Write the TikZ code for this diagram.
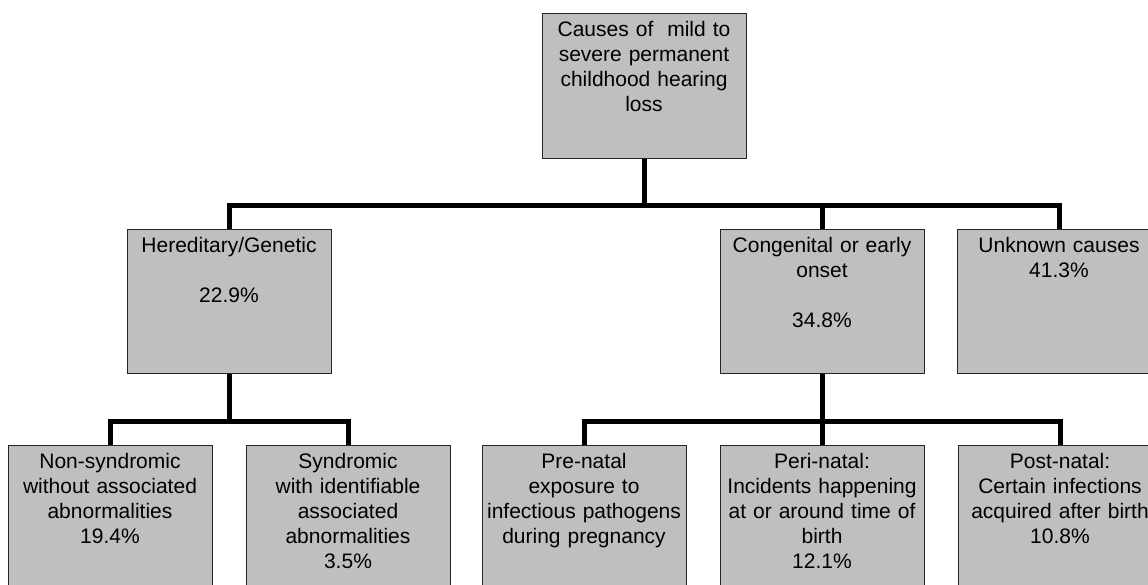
\documentclass[tikz,border=0pt]{standalone}
\usepackage{fontspec}
\setmainfont{Liberation Sans}
\usetikzlibrary{positioning}
\tikzset{
  box/.style={draw=black!85, line width=0.8pt, fill=black!25, anchor=north,
    minimum width=204pt, minimum height=144pt, inner sep=0pt},
  txt/.style={inner sep=0pt, text width=202pt, align=center,
    font=\fontsize{21}{25}\selectfont},
  link/.style={line width=5pt, line join=miter}
}
\begin{document}
\begin{tikzpicture}[x=1pt,y=-1pt]
        \useasboundingbox (0,0) rectangle (1148,584);
        \clip (0,0) rectangle (1148,584);
        \node[box, minimum height=145pt] (Root) at (644,13) {};
        \node[box] (Her)  at (229,229) {};
        \node[box] (Con)  at (822,229) {};
        \node[box] (Unk)  at (1059,229) {};
        \node[box, minimum height=160pt] (NS)   at (110,445) {};
        \node[box, minimum height=160pt] (SY)   at (348,445) {};
        \node[box, minimum height=160pt] (Pre)  at (584,445) {};
        \node[box, minimum height=160pt] (Peri) at (822,445) {};
        \node[box, minimum height=160pt] (Post) at (1060,445) {};
        \node[txt, below=8pt of Root.north] (RootT) {Causes of~ mild to\\severe permanent\\childhood hearing\\loss};
        \node[txt, below=8pt of Her.north]  (HerT)  {Hereditary/Genetic\\[25pt]22.9\%};
        \node[txt, below=8pt of Con.north]  (ConT)  {Congenital or early\\onset\\[25pt]34.8\%};
        \node[txt, below=8pt of Unk.north]  (UnkT)  {Unknown causes\\41.3\%};
        \node[txt, below=8pt of NS.north]   (NST)   {Non-syndromic\\without associated\\abnormalities\\19.4\%};
        \node[txt, below=8pt of SY.north]   (SYT)   {Syndromic\\with identifiable\\associated\\abnormalities\\3.5\%};
        \node[txt, below=8pt of Pre.north]  (PreT)  {Pre-natal\\exposure to\\infectious pathogens\\during pregnancy};
        \node[txt, below=8pt of Peri.north] (PeriT) {Peri-natal:\\Incidents happening\\at or around time of\\birth\\12.1\%};
        \node[txt, below=8pt of Post.north] (PostT) {Post-natal:\\Certain infections\\acquired after birth\\10.8\%};
        \coordinate (TopBus) at (644,205);
        \coordinate (HerBus) at (229,421);
        \coordinate (ConBus) at (822,421);
        \draw[link] (Root) -- (TopBus);
        \draw[link] (Her) |- (TopBus) -| (Unk);
        \draw[link] (Con) -- (TopBus -| Con);
        \draw[link] (Her) -- (HerBus);
        \draw[link] (NS) |- (HerBus) -| (SY);
        \draw[link] (Con) -- (ConBus);
        \draw[link] (Pre) |- (ConBus) -| (Post);
        \draw[link] (Peri) -- (ConBus);
\end{tikzpicture}
\end{document}
